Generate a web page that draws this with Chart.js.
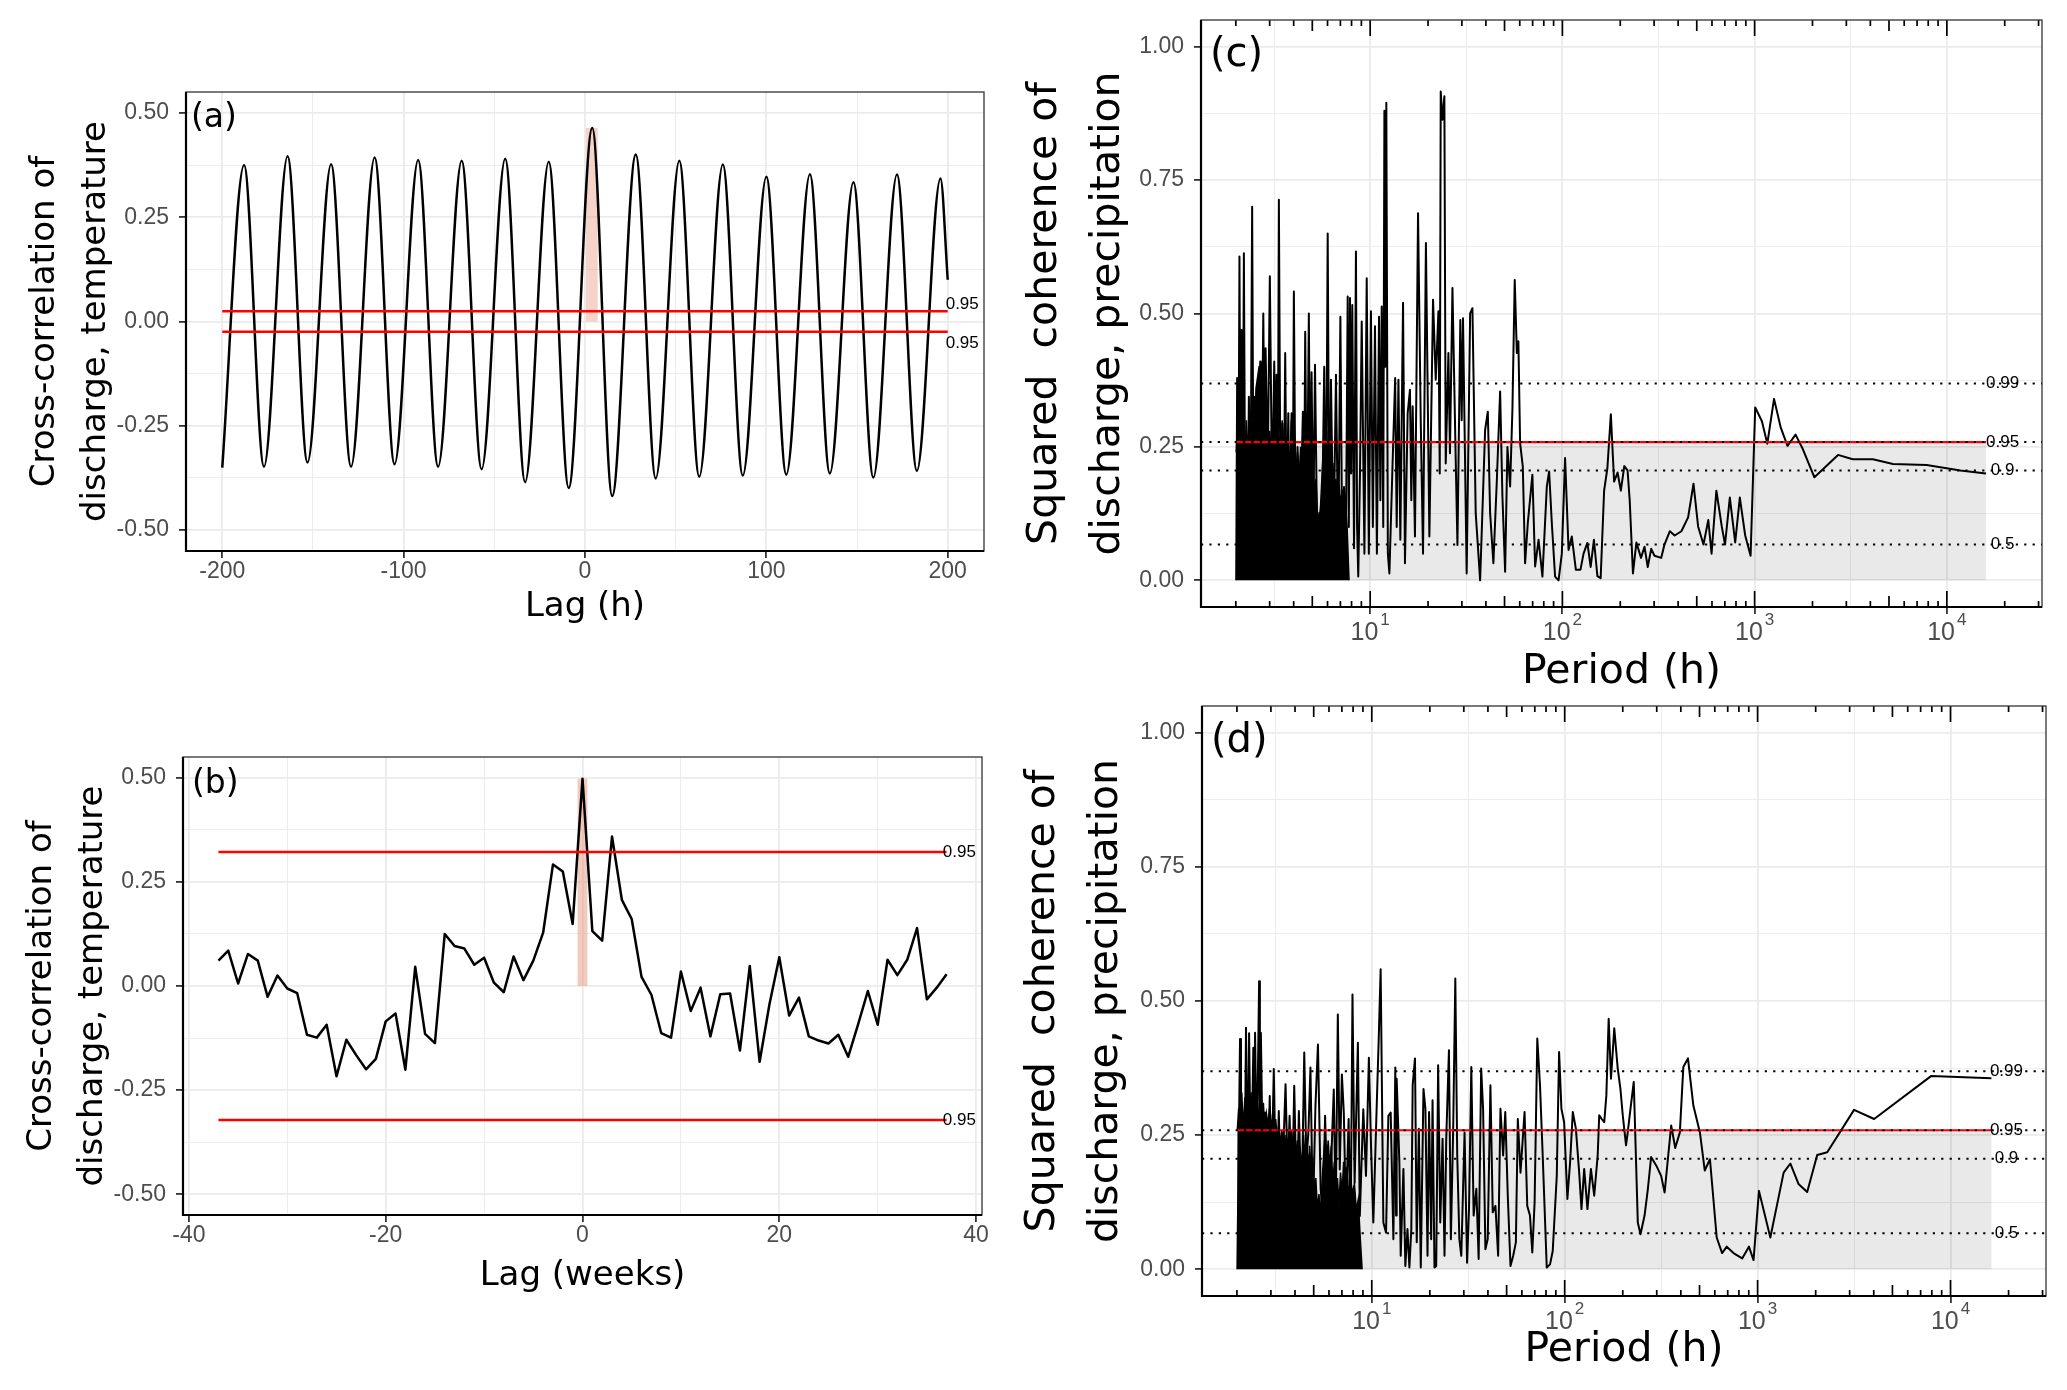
<!DOCTYPE html>
<html>
<head>
<meta charset="utf-8">
<script src="https://cdn.jsdelivr.net/npm/chart.js@4.4.1/dist/chart.umd.min.js"></script>
<style>
  html, body { margin: 0; padding: 0; background: #fff; }
  body { width: 2067px; height: 1390px; position: relative; overflow: hidden; }
  canvas { position: absolute; }
</style>
</head>
<body>
<canvas id="chartA" width="1010" height="650" style="left:0px;top:0px"></canvas>
<canvas id="chartB" width="1010" height="680" style="left:0px;top:650px"></canvas>
<canvas id="chartC" width="1067" height="700" style="left:1000px;top:0px"></canvas>
<canvas id="chartD" width="1067" height="700" style="left:1000px;top:690px"></canvas>
<script>
// ---- (a) hourly cross-correlation, turning points
const aLag  = [-200, -188, -177, -164, -153, -140, -129, -116, -105, -92, -81, -68, -57, -44, -33, -20, -9,
               4, 15, 28, 39, 52, 63, 76, 87, 100, 111, 124, 135, 148, 159, 172, 183, 196, 200];
const aCorr = [-0.350, 0.375, -0.348, 0.396, -0.338, 0.377, -0.348, 0.393, -0.342, 0.387, -0.348, 0.385,
               -0.354, 0.390, -0.385, 0.383, -0.399, 0.464, -0.418, 0.400, -0.376, 0.385, -0.372, 0.376,
               -0.369, 0.347, -0.367, 0.353, -0.364, 0.334, -0.374, 0.352, -0.358, 0.343, 0.100];
const aCI = 0.0245;
const aPeakBand = [0.5, 7, 0.464];

// ---- (b) weekly cross-correlation
const bLag  = [-37, -36, -35, -34, -33, -32, -31, -30, -29, -28, -27, -26, -25, -24, -23, -22, -21, -20, -19,
               -18, -17, -16, -15, -14, -13, -12, -11, -10, -9, -8, -7, -6, -5, -4, -3, -2, -1, 0,
               1, 2, 3, 4, 5, 6, 7, 8, 9, 10, 11, 12, 13, 14, 15, 16, 17, 18, 19,
               20, 21, 22, 23, 24, 25, 26, 27, 28, 29, 30, 31, 32, 33, 34, 35, 36, 37];
const bCorr = [0.061, 0.085, 0.006, 0.077, 0.061, -0.026, 0.025, -0.006, -0.017, -0.117, -0.124, -0.093, -0.217,
               -0.129, -0.166, -0.200, -0.175, -0.085, -0.066, -0.201, 0.046, -0.115, -0.137, 0.125, 0.096,
               0.090, 0.051, 0.068, 0.008, -0.015, 0.071, 0.014, 0.061, 0.128, 0.292, 0.275, 0.149, 0.498,
               0.132, 0.109, 0.359, 0.207, 0.161, 0.022, -0.021, -0.113, -0.124, 0.035, -0.060, -0.004,
               -0.121, -0.020, -0.018, -0.155, 0.048, -0.182, -0.044, 0.069, -0.071, -0.028, -0.121,
               -0.131, -0.138, -0.117, -0.170, -0.093, -0.012, -0.093, 0.063, 0.026, 0.063, 0.139,
               -0.032, -0.004, 0.028];
const bCI = 0.322;
const bPeakBand = [-0.5, 0.5, 0.498];

// ---- (c) squared coherence, hourly data (period given as log10 of hours)
const cLogP = [0.303, 0.308, 0.314, 0.320, 0.325, 0.331, 0.337, 0.343, 0.350, 0.357,
  0.363, 0.369, 0.377, 0.386, 0.393, 0.400, 0.414, 0.428, 0.436, 0.444,
  0.450, 0.456, 0.467, 0.478, 0.490, 0.501, 0.507, 0.513, 0.519, 0.525,
  0.534, 0.543, 0.550, 0.558, 0.566, 0.574, 0.582, 0.591, 0.597, 0.603,
  0.612, 0.622, 0.636, 0.650, 0.656, 0.662, 0.671, 0.681, 0.688, 0.695,
  0.704, 0.713, 0.724, 0.735, 0.748, 0.761, 0.770, 0.779, 0.788, 0.796,
  0.809, 0.822, 0.834, 0.845, 0.855, 0.864, 0.873, 0.883, 0.889, 0.895,
  0.901, 0.907, 0.916, 0.926, 0.932, 0.938, 0.947, 0.956, 0.970, 0.982,
  0.993, 1.004, 1.014, 1.025, 1.035, 1.046, 1.053, 1.060, 1.068, 1.074,
  1.079, 1.084, 1.092, 1.100, 1.115, 1.130, 1.138, 1.147, 1.157, 1.171,
  1.181, 1.195, 1.207, 1.214, 1.221, 1.233, 1.249, 1.263, 1.275, 1.290,
  1.308, 1.327, 1.341, 1.355, 1.362, 1.367, 1.376, 1.386, 1.393, 1.407,
  1.415, 1.428, 1.445, 1.454, 1.469, 1.476, 1.483, 1.502, 1.520, 1.532,
  1.549, 1.572, 1.598, 1.612, 1.624, 1.641, 1.659, 1.676, 1.688, 1.702,
  1.714, 1.728, 1.740, 1.752, 1.763, 1.771, 1.780, 1.794, 1.806, 1.820,
  1.844, 1.858, 1.876, 1.896, 1.919, 1.931, 1.945, 1.962, 1.980, 1.997,
  2.014, 2.032, 2.049, 2.070, 2.094, 2.110, 2.130, 2.147, 2.164, 2.182,
  2.199, 2.217, 2.234, 2.252, 2.269, 2.287, 2.304, 2.322, 2.339, 2.350,
  2.367, 2.385, 2.409, 2.427, 2.444, 2.462, 2.479, 2.514, 2.531, 2.559,
  2.584, 2.619, 2.654, 2.682, 2.706, 2.734, 2.759, 2.776, 2.801, 2.829,
  2.846, 2.871, 2.899, 2.923, 2.951, 2.979, 3.003, 3.038, 3.066, 3.101,
  3.136, 3.171, 3.213, 3.248, 3.311, 3.434, 3.510, 3.615, 3.720, 3.895,
  4.070, 4.204];
const cCoh = [0.000, 0.379, 0.100, 0.607, 0.150, 0.469, 0.120, 0.613, 0.100, 0.270,
  0.120, 0.344, 0.080, 0.700, 0.120, 0.344, 0.150, 0.410, 0.200, 0.500,
  0.250, 0.435, 0.200, 0.570, 0.150, 0.410, 0.200, 0.385, 0.100, 0.713,
  0.100, 0.294, 0.100, 0.426, 0.100, 0.313, 0.100, 0.313, 0.100, 0.541,
  0.100, 0.250, 0.100, 0.316, 0.100, 0.466, 0.100, 0.500, 0.100, 0.390,
  0.100, 0.404, 0.080, 0.126, 0.060, 0.400, 0.080, 0.650, 0.050, 0.376,
  0.050, 0.385, 0.050, 0.494, 0.030, 0.175, 0.030, 0.532, 0.100, 0.529,
  0.200, 0.516, 0.060, 0.616, 0.100, 0.007, 0.200, 0.485, 0.050, 0.566,
  0.050, 0.504, 0.100, 0.476, 0.050, 0.494, 0.150, 0.513, 0.100, 0.880,
  0.400, 0.895, 0.050, 0.013, 0.200, 0.379, 0.100, 0.376, 0.076, 0.520,
  0.032, 0.313, 0.357, 0.150, 0.326, 0.082, 0.688, 0.300, 0.050, 0.632,
  0.082, 0.526, 0.376, 0.504, 0.200, 0.916, 0.863, 0.907, 0.219, 0.426,
  0.238, 0.548, 0.226, 0.066, 0.488, 0.300, 0.491, 0.013, 0.500, 0.510,
  0.126, 0.000, 0.282, 0.316, 0.126, 0.032, 0.188, 0.354, 0.157, 0.016,
  0.250, 0.176, 0.320, 0.563, 0.426, 0.448, 0.257, 0.213, 0.032, 0.107,
  0.198, 0.026, 0.076, 0.007, 0.176, 0.204, 0.107, 0.007, 0.000, 0.050,
  0.229, 0.057, 0.082, 0.020, 0.020, 0.050, 0.070, 0.025, 0.076, 0.008,
  0.004, 0.168, 0.210, 0.311, 0.185, 0.202, 0.168, 0.214, 0.206, 0.151,
  0.013, 0.071, 0.042, 0.063, 0.025, 0.059, 0.046, 0.042, 0.067, 0.092,
  0.084, 0.092, 0.118, 0.181, 0.101, 0.067, 0.113, 0.050, 0.168, 0.101,
  0.067, 0.155, 0.071, 0.155, 0.084, 0.046, 0.324, 0.298, 0.256, 0.340,
  0.286, 0.252, 0.273, 0.248, 0.193, 0.235, 0.227, 0.227, 0.218, 0.216,
  0.206, 0.200];
// ragged upper edge of the solid black core at short periods
const cBodyLogP = [0.303, 0.310, 0.318, 0.325, 0.332, 0.340, 0.348, 0.356, 0.364, 0.372,
  0.380, 0.390, 0.398, 0.406, 0.414, 0.422, 0.430, 0.438, 0.446, 0.454,
  0.462, 0.470, 0.478, 0.486, 0.494, 0.502, 0.510, 0.518, 0.526, 0.534,
  0.542, 0.550, 0.558, 0.566, 0.574, 0.582, 0.590, 0.598, 0.606, 0.614,
  0.622, 0.630, 0.638, 0.646, 0.654, 0.662, 0.670, 0.678, 0.686, 0.694,
  0.702, 0.710, 0.718, 0.726, 0.734, 0.742, 0.750, 0.758, 0.766, 0.774,
  0.782, 0.790, 0.798, 0.806, 0.814, 0.822, 0.830, 0.838, 0.846, 0.854,
  0.862, 0.870, 0.880, 0.890];
const cBodyCoh = [0.24, 0.30, 0.26, 0.32, 0.24, 0.33, 0.22, 0.30, 0.23, 0.32,
  0.24, 0.30, 0.27, 0.36, 0.38, 0.40, 0.40, 0.41, 0.36, 0.33,
  0.28, 0.24, 0.28, 0.22, 0.30, 0.24, 0.28, 0.22, 0.27, 0.20,
  0.30, 0.22, 0.26, 0.20, 0.25, 0.21, 0.30, 0.22, 0.27, 0.20,
  0.24, 0.19, 0.25, 0.20, 0.28, 0.22, 0.30, 0.22, 0.28, 0.20,
  0.24, 0.16, 0.19, 0.12, 0.11, 0.14, 0.20, 0.26, 0.22, 0.28,
  0.18, 0.24, 0.20, 0.22, 0.16, 0.19, 0.15, 0.18, 0.14, 0.17,
  0.13, 0.15, 0.10, 0.00];

// ---- (d) squared coherence, second series
const dLogP = [0.303, 0.317, 0.322, 0.327, 0.340, 0.348, 0.357, 0.364, 0.374, 0.386,
  0.390, 0.395, 0.404, 0.416, 0.420, 0.425, 0.435, 0.447, 0.459, 0.471,
  0.480, 0.492, 0.505, 0.518, 0.530, 0.553, 0.564, 0.574, 0.586, 0.598,
  0.612, 0.622, 0.636, 0.650, 0.661, 0.672, 0.682, 0.695, 0.708, 0.721,
  0.735, 0.747, 0.758, 0.772, 0.787, 0.803, 0.813, 0.824, 0.834, 0.845,
  0.855, 0.866, 0.880, 0.890, 0.900, 0.911, 0.928, 0.938, 0.956, 0.970,
  0.985, 0.996, 1.008, 1.025, 1.036, 1.046, 1.060, 1.074, 1.086, 1.098,
  1.112, 1.122, 1.126, 1.129, 1.143, 1.150, 1.164, 1.174, 1.185, 1.195,
  1.205, 1.212, 1.224, 1.233, 1.244, 1.254, 1.268, 1.278, 1.289, 1.297,
  1.308, 1.315, 1.325, 1.334, 1.344, 1.355, 1.367, 1.377, 1.386, 1.400,
  1.410, 1.422, 1.433, 1.443, 1.454, 1.464, 1.481, 1.494, 1.504, 1.516,
  1.528, 1.542, 1.554, 1.567, 1.577, 1.589, 1.601, 1.615, 1.627, 1.641,
  1.655, 1.667, 1.681, 1.692, 1.705, 1.719, 1.733, 1.747, 1.757, 1.771,
  1.792, 1.806, 1.820, 1.832, 1.844, 1.858, 1.872, 1.886, 1.907, 1.924,
  1.938, 1.959, 1.971, 1.983, 1.997, 2.014, 2.028, 2.042, 2.058, 2.075,
  2.087, 2.101, 2.118, 2.136, 2.153, 2.171, 2.179, 2.192, 2.205, 2.216,
  2.228, 2.240, 2.257, 2.275, 2.289, 2.301, 2.318, 2.327, 2.341, 2.358,
  2.365, 2.379, 2.393, 2.414, 2.431, 2.448, 2.475, 2.500, 2.518, 2.552,
  2.573, 2.597, 2.615, 2.639, 2.667, 2.701, 2.726, 2.753, 2.788, 2.816,
  2.840, 2.875, 2.920, 2.955, 2.979, 3.007, 3.066, 3.135, 3.170, 3.212,
  3.257, 3.309, 3.361, 3.500, 3.604, 3.899, 4.212];
const dCoh = [0.000, 0.429, 0.150, 0.280, 0.120, 0.450, 0.168, 0.440, 0.150, 0.413,
  0.200, 0.441, 0.205, 0.537, 0.250, 0.441, 0.200, 0.292, 0.100, 0.323,
  0.150, 0.373, 0.100, 0.295, 0.100, 0.345, 0.174, 0.286, 0.112, 0.342,
  0.100, 0.295, 0.106, 0.404, 0.200, 0.260, 0.376, 0.100, 0.304, 0.419,
  0.149, 0.100, 0.286, 0.099, 0.174, 0.335, 0.100, 0.475, 0.186, 0.363,
  0.292, 0.099, 0.280, 0.050, 0.512, 0.161, 0.422, 0.099, 0.298, 0.174,
  0.394, 0.230, 0.087, 0.298, 0.429, 0.559, 0.087, 0.068, 0.286, 0.292,
  0.056, 0.376, 0.100, 0.355, 0.200, 0.025, 0.187, 0.006, 0.075, 0.003,
  0.075, 0.343, 0.393, 0.050, 0.262, 0.003, 0.336, 0.299, 0.025, 0.293,
  0.056, 0.315, 0.003, 0.006, 0.380, 0.087, 0.243, 0.025, 0.243, 0.408,
  0.056, 0.262, 0.542, 0.212, 0.056, 0.025, 0.255, 0.012, 0.112, 0.377,
  0.100, 0.150, 0.019, 0.374, 0.299, 0.037, 0.056, 0.343, 0.106, 0.118,
  0.025, 0.299, 0.212, 0.293, 0.137, 0.006, 0.025, 0.050, 0.280, 0.180,
  0.293, 0.118, 0.100, 0.031, 0.124, 0.430, 0.343, 0.212, 0.003, 0.009,
  0.034, 0.174, 0.405, 0.299, 0.274, 0.131, 0.199, 0.293, 0.262, 0.181,
  0.112, 0.187, 0.112, 0.187, 0.137, 0.212, 0.287, 0.280, 0.274, 0.324,
  0.467, 0.355, 0.449, 0.374, 0.336, 0.287, 0.231, 0.256, 0.299, 0.349,
  0.262, 0.087, 0.065, 0.100, 0.149, 0.209, 0.193, 0.174, 0.143, 0.268,
  0.226, 0.255, 0.377, 0.393, 0.305, 0.255, 0.184, 0.205, 0.059, 0.030,
  0.042, 0.030, 0.020, 0.042, 0.017, 0.146, 0.059, 0.180, 0.197, 0.159,
  0.144, 0.213, 0.218, 0.297, 0.280, 0.360, 0.356];
const dBodyLogP = [0.303, 0.310, 0.318, 0.326, 0.334, 0.342, 0.350, 0.358, 0.366, 0.374,
  0.382, 0.390, 0.398, 0.406, 0.414, 0.422, 0.430, 0.438, 0.446, 0.454,
  0.462, 0.470, 0.478, 0.486, 0.494, 0.502, 0.510, 0.518, 0.526, 0.534,
  0.542, 0.550, 0.558, 0.566, 0.574, 0.582, 0.590, 0.598, 0.606, 0.614,
  0.622, 0.630, 0.638, 0.646, 0.654, 0.662, 0.670, 0.678, 0.686, 0.694,
  0.702, 0.710, 0.718, 0.726, 0.734, 0.742, 0.750, 0.758, 0.766, 0.774,
  0.782, 0.790, 0.798, 0.806, 0.814, 0.822, 0.830, 0.838, 0.846, 0.854,
  0.862, 0.870, 0.880, 0.890, 0.900, 0.910, 0.920, 0.930, 0.940, 0.950];
const dBodyCoh = [0.26, 0.30, 0.27, 0.33, 0.26, 0.32, 0.27, 0.30, 0.28, 0.33,
  0.29, 0.32, 0.30, 0.31, 0.29, 0.30, 0.27, 0.31, 0.26, 0.29,
  0.27, 0.30, 0.26, 0.29, 0.25, 0.28, 0.24, 0.27, 0.23, 0.26,
  0.22, 0.25, 0.21, 0.24, 0.20, 0.26, 0.22, 0.28, 0.21, 0.24,
  0.20, 0.22, 0.19, 0.25, 0.21, 0.24, 0.19, 0.23, 0.18, 0.20,
  0.15, 0.17, 0.11, 0.14, 0.10, 0.16, 0.21, 0.25, 0.20, 0.24,
  0.19, 0.23, 0.16, 0.20, 0.13, 0.17, 0.12, 0.18, 0.14, 0.20,
  0.16, 0.19, 0.14, 0.17, 0.14, 0.16, 0.11, 0.13, 0.06, 0.00];

// significance levels of the coherence and their labels
const cohLevels = [0.369, 0.259, 0.206, 0.067];
const cohLevelNames = ['0.99', '0.95', '0.9', '0.5'];
const cohCI = 0.259;

// axis ticks (minor ones get a grid line only)
const aXTicks = [-200, -150, -100, -50, 0, 50, 100, 150, 200];
const bXTicks = [-40, -30, -20, -10, 0, 10, 20, 30, 40];
const corrTicks = [-0.5, -0.375, -0.25, -0.125, 0, 0.125, 0.25, 0.375, 0.5];
const cohTicks = [0, 0.125, 0.25, 0.375, 0.5, 0.625, 0.75, 0.875, 1];
const periodTicks = [3.162, 10, 31.62, 100, 316.2, 1000, 3162, 10000];
const periodExps = [1, 2, 3, 4];

const GRID = '#ebebeb';
const xy = (xs, ys) => xs.map((v, i) => ({x: v, y: ys[i]}));
const logxy = (ls, ys) => ls.map((l, i) => ({x: Math.pow(10, l), y: ys[i]}));
const quarter = v => Math.abs(v * 4 - Math.round(v * 4)) < 1e-6;
const decade = v => Math.abs(Math.log10(v) - Math.round(Math.log10(v))) < 1e-3;

function axis(o) {
  const major = o.major;
  return {
    type: o.type || 'linear',
    min: o.min, max: o.max,
    afterBuildTicks: s => { s.ticks = o.ticks.map(v => ({value: v})); },
    afterFit: s => {
      if (s.isHorizontal()) s.height = o.fit; else s.width = o.fit;
      s.paddingTop = 0; s.paddingBottom = 0; s.paddingLeft = 0; s.paddingRight = 0;
    },
    grid: {
      color: GRID,
      lineWidth: c => (c.tick && major(c.tick.value)) ? 1.8 : 0.9,
      tickLength: 7, tickWidth: 1.8,
      tickColor: c => (c.tick && major(c.tick.value)) ? '#333333' : 'rgba(0,0,0,0)'
    },
    border: {display: false},
    ticks: {
      display: o.labels !== false, autoSkip: false, maxRotation: 0, padding: o.tickPad,
      color: '#4d4d4d', font: {family: 'Liberation Sans', size: 23},
      callback: v => major(v) ? o.fmt(v) : ''
    },
    title: {
      display: true, text: o.title, color: '#000',
      font: {family: 'DejaVu Sans', size: o.tsize, lineHeight: o.tlh},
      padding: o.tpad
    }
  };
}

const decor = {
  id: 'decor',
  beforeDatasetsDraw(chart, args, o) {
    const {ctx, chartArea: ar, scales: {x, y}} = chart;
    ctx.save();
    ctx.beginPath(); ctx.rect(ar.left, ar.top, ar.width, ar.height); ctx.clip();
    for (const b of o.bands || []) {
      const x0 = x.getPixelForValue(b.x0), x1 = x.getPixelForValue(b.x1);
      const y0 = y.getPixelForValue(b.y0), y1 = y.getPixelForValue(b.y1);
      ctx.fillStyle = b.color;
      ctx.fillRect(x0, y1, x1 - x0, y0 - y1);
    }
    ctx.restore();
  },
  afterDatasetsDraw(chart, args, o) {
    const {ctx, chartArea: ar, scales: {x, y}} = chart;
    ctx.save();
    ctx.beginPath(); ctx.rect(ar.left, ar.top, ar.width, ar.height); ctx.clip();
    // dotted significance levels across the panel
    ctx.strokeStyle = '#000'; ctx.lineWidth = 2; ctx.setLineDash([2.2, 6.2]);
    for (const lv of o.hlines || []) {
      const py = y.getPixelForValue(lv);
      ctx.beginPath(); ctx.moveTo(ar.left, py); ctx.lineTo(ar.right, py); ctx.stroke();
    }
    ctx.setLineDash([]);
    // log ticks on top and bottom
    if (o.logTicks) {
      ctx.lineWidth = 1.7;
      for (let e = 0; e <= 4; e++) {
        for (let m = 1; m <= 9; m++) {
          const px = x.getPixelForValue(m * Math.pow(10, e));
          if (px < ar.left + 1 || px > ar.right - 1) continue;
          const len = m === 1 ? 16 : (m === 5 ? 11 : 6);
          ctx.beginPath();
          ctx.moveTo(px, ar.bottom); ctx.lineTo(px, ar.bottom - len);
          ctx.moveTo(px, ar.top); ctx.lineTo(px, ar.top + len);
          ctx.stroke();
        }
      }
    }
    ctx.restore();

    ctx.save();
    ctx.fillStyle = '#000';
    ctx.font = '17px "Liberation Sans"'; ctx.textAlign = 'center'; ctx.textBaseline = 'middle';
    for (const t of o.texts || []) ctx.fillText(t.text, x.getPixelForValue(t.x), y.getPixelForValue(t.y));
    ctx.font = o.letterSize + 'px "DejaVu Sans"'; ctx.textAlign = 'left';
    ctx.fillText(o.letter, ar.left + o.letterDx, ar.top + o.letterDy);
    // panel frame
    ctx.strokeStyle = '#333'; ctx.lineWidth = 1.3;
    ctx.strokeRect(ar.left, ar.top, ar.width, ar.height);
    ctx.strokeStyle = '#000'; ctx.lineWidth = 2.2;
    ctx.beginPath(); ctx.moveTo(ar.left, ar.top); ctx.lineTo(ar.left, ar.bottom); ctx.lineTo(ar.right, ar.bottom); ctx.stroke();
    // 10^k labels
    if (o.logLabels) {
      ctx.fillStyle = '#4d4d4d'; ctx.textBaseline = 'alphabetic'; ctx.textAlign = 'left';
      for (const e of periodExps) {
        const px = x.getPixelForValue(Math.pow(10, e));
        ctx.font = '25px "Liberation Sans"'; const w1 = ctx.measureText('10').width;
        ctx.font = '17px "Liberation Sans"'; const w2 = ctx.measureText(String(e)).width;
        const x0 = px - (w1 + 2 + w2) / 2;
        ctx.font = '25px "Liberation Sans"'; ctx.fillText('10', x0, ar.bottom + 33);
        ctx.font = '17px "Liberation Sans"'; ctx.fillText(String(e), x0 + w1 + 2, ar.bottom + 18);
      }
    }
    ctx.restore();
  }
};

const base = (pad, decorOpts) => ({
  responsive: false, animation: false, devicePixelRatio: 1, events: [],
  layout: {padding: pad},
  plugins: {legend: {display: false}, tooltip: {enabled: false}, decor: decorOpts}
});

const corrFmt = v => v.toFixed(2);

// ---------- (a)
new Chart(document.getElementById('chartA'), {
  type: 'line',
  data: {datasets: [
    {data: [{x: aLag[0], y: aCI}, {x: aLag[aLag.length - 1], y: aCI}], borderColor: '#ff0000', borderWidth: 2.6, pointRadius: 0},
    {data: [{x: aLag[0], y: -aCI}, {x: aLag[aLag.length - 1], y: -aCI}], borderColor: '#ff0000', borderWidth: 2.6, pointRadius: 0},
    {data: xy(aLag, aCorr), borderColor: '#000', borderWidth: 2.5, pointRadius: 0, cubicInterpolationMode: 'monotone'}
  ]},
  options: Object.assign(base({left: 0, top: 92, right: 26, bottom: 0}, {
    bands: [{x0: aPeakBand[0], x1: aPeakBand[1], y0: 0, y1: aPeakBand[2], color: 'rgba(232,150,125,0.42)'}],
    texts: [{text: '0.95', x: 208, y: 0.042}, {text: '0.95', x: 208, y: -0.052}],
    letter: '(a)', letterSize: 33, letterDx: 5, letterDy: 26
  }), {
    scales: {
      x: axis({min: -220, max: 220, ticks: aXTicks, major: v => v % 100 === 0, fmt: v => String(v), fit: 99,
               tickPad: 0, title: 'Lag (h)', tsize: 34, tlh: 1.2, tpad: {top: 0, bottom: 22.6}}),
      y: axis({min: -0.55, max: 0.55, ticks: corrTicks, major: quarter, fmt: corrFmt, fit: 186,
               tickPad: 10, title: ['Cross-correlation of', 'discharge, temperature'], tsize: 34, tlh: 1.5, tpad: {top: 19.5, bottom: 0}})
    }
  }),
  plugins: [decor]
});

// ---------- (b)
new Chart(document.getElementById('chartB'), {
  type: 'line',
  data: {datasets: [
    {data: [{x: bLag[0], y: bCI}, {x: bLag[bLag.length - 1], y: bCI}], borderColor: '#ff0000', borderWidth: 2.4, pointRadius: 0},
    {data: [{x: bLag[0], y: -bCI}, {x: bLag[bLag.length - 1], y: -bCI}], borderColor: '#ff0000', borderWidth: 2.4, pointRadius: 0},
    {data: xy(bLag, bCorr), borderColor: '#000', borderWidth: 2.5, pointRadius: 0, tension: 0, borderJoinStyle: 'round'}
  ]},
  options: Object.assign(base({left: 0, top: 107, right: 28, bottom: 0}, {
    bands: [{x0: bPeakBand[0], x1: bPeakBand[1], y0: 0, y1: bPeakBand[2], color: 'rgba(232,150,125,0.5)'}],
    texts: [{text: '0.95', x: 38.3, y: bCI}, {text: '0.95', x: 38.3, y: -bCI}],
    letter: '(b)', letterSize: 33, letterDx: 9, letterDy: 27
  }), {
    scales: {
      x: axis({min: -40.6, max: 40.6, ticks: bXTicks, major: v => v % 20 === 0, fmt: v => String(v), fit: 115,
               tickPad: 0, title: 'Lag (weeks)', tsize: 34, tlh: 1.2, tpad: {top: 0, bottom: 33.6}}),
      y: axis({min: -0.55, max: 0.55, ticks: corrTicks, major: quarter, fmt: corrFmt, fit: 183,
               tickPad: 10, title: ['Cross-correlation of', 'discharge, temperature'], tsize: 34, tlh: 1.5, tpad: {top: 16.5, bottom: 0}})
    }
  }),
  plugins: [decor]
});

// ---------- (c), (d)
function coherenceChart(id, logP, coh, bodyP, bodyC, pad, xFit, yFit, tpadX, tpadY, letter) {
  const first = Math.pow(10, logP[0]), last = Math.pow(10, logP[logP.length - 1]);
  return new Chart(document.getElementById(id), {
    type: 'line',
    data: {datasets: [
      {data: [{x: first, y: cohCI}, {x: last, y: cohCI}], borderColor: '#ff0000', borderWidth: 2.2, pointRadius: 0},
      {data: logxy(logP, coh), borderColor: '#000', borderWidth: 2, pointRadius: 0, tension: 0, borderJoinStyle: 'round'},
      {data: logxy(bodyP, bodyC), borderColor: '#000', borderWidth: 1.5, backgroundColor: '#000', fill: 'origin', pointRadius: 0, tension: 0}
    ]},
    options: Object.assign(base(pad, {
      bands: [{x0: first, x1: last, y0: 0, y1: cohCI, color: 'rgba(0,0,0,0.085)'}],
      hlines: cohLevels,
      texts: cohLevels.map((v, i) => ({text: cohLevelNames[i], x: 19500, y: v})),
      logTicks: true, logLabels: true,
      letter: letter, letterSize: 40, letterDx: 9, letterDy: 36
    }), {
      scales: {
        x: axis({type: 'logarithmic', min: 1.318, max: 31260, ticks: periodTicks, major: decade, fmt: v => '', fit: xFit,
                 labels: false, tickPad: 0, title: 'Period (h)', tsize: 41, tlh: 1.2, tpad: tpadX}),
        y: axis({min: -0.05, max: 1.05, ticks: cohTicks, major: quarter, fmt: corrFmt, fit: yFit,
                 tickPad: 10, title: ['Squared  coherence of', 'discharge, precipitation'], tsize: 41, tlh: 1.54, tpad: tpadY})
      }
    }),
    plugins: [decor]
  });
}

coherenceChart('chartC', cLogP, cCoh, cBodyLogP, cBodyCoh, {left: 0, top: 20, right: 25, bottom: 0}, 93, 201,
               {top: 0, bottom: 3.4}, {top: 13.4, bottom: 0}, '(c)');
coherenceChart('chartD', dLogP, dCoh, dBodyLogP, dBodyCoh, {left: 0, top: 16, right: 21, bottom: 0}, 94, 202,
               {top: 0, bottom: 15.4}, {top: 11.4, bottom: 0}, '(d)');
</script>
</body>
</html>
